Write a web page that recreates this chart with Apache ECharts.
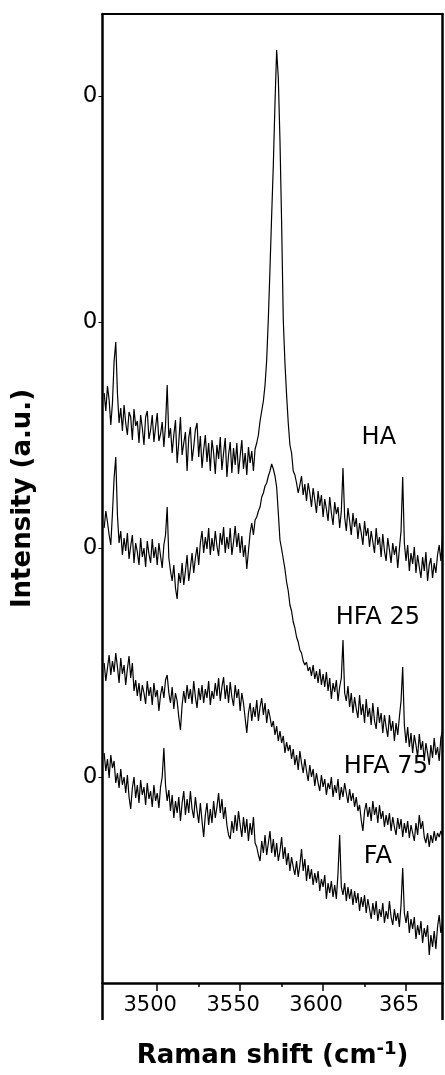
<!DOCTYPE html>
<html>
<head>
<meta charset="utf-8">
<title>Raman spectra – OH stretching region</title>
<script src="https://cdn.jsdelivr.net/npm/echarts@6/dist/echarts.min.js"></script>
<style>
  html, body { margin: 0; padding: 0; background: #fff; }
  #chart { width: 445px; height: 1075px; }
</style>
</head>
<body>
<div id="chart"></div>
<script>
// Raman shift grid (cm-1), 1 cm-1 steps
const shift = [
  3468, 3469, 3470, 3471, 3472, 3473, 3474, 3475, 3476, 3477,
  3478, 3479, 3480, 3481, 3482, 3483, 3484, 3485, 3486, 3487,
  3488, 3489, 3490, 3491, 3492, 3493, 3494, 3495, 3496, 3497,
  3498, 3499, 3500, 3501, 3502, 3503, 3504, 3505, 3506, 3507,
  3508, 3509, 3510, 3511, 3512, 3513, 3514, 3515, 3516, 3517,
  3518, 3519, 3520, 3521, 3522, 3523, 3524, 3525, 3526, 3527,
  3528, 3529, 3530, 3531, 3532, 3533, 3534, 3535, 3536, 3537,
  3538, 3539, 3540, 3541, 3542, 3543, 3544, 3545, 3546, 3547,
  3548, 3549, 3550, 3551, 3552, 3553, 3554, 3555, 3556, 3557,
  3558, 3559, 3560, 3561, 3562, 3563, 3564, 3565, 3566, 3567,
  3568, 3569, 3570, 3571, 3572, 3573, 3574, 3575, 3576, 3577,
  3578, 3579, 3580, 3581, 3582, 3583, 3584, 3585, 3586, 3587,
  3588, 3589, 3590, 3591, 3592, 3593, 3594, 3595, 3596, 3597,
  3598, 3599, 3600, 3601, 3602, 3603, 3604, 3605, 3606, 3607,
  3608, 3609, 3610, 3611, 3612, 3613, 3614, 3615, 3616, 3617,
  3618, 3619, 3620, 3621, 3622, 3623, 3624, 3625, 3626, 3627,
  3628, 3629, 3630, 3631, 3632, 3633, 3634, 3635, 3636, 3637,
  3638, 3639, 3640, 3641, 3642, 3643, 3644, 3645, 3646, 3647,
  3648, 3649, 3650, 3651, 3652, 3653, 3654, 3655, 3656, 3657,
  3658, 3659, 3660, 3661, 3662, 3663, 3664, 3665, 3666, 3667,
  3668, 3669, 3670, 3671, 3672
];

// Stacked spectra, intensities in a.u. (vertical offsets already included)
const HA = [
  590, 572, 597, 583, 558, 580, 622, 641, 590, 560,
  575, 552, 578, 560, 548, 571, 566, 543, 574, 557,
  562, 540, 568, 555, 538, 566, 572, 544, 553, 568,
  541, 556, 570, 542, 549, 561, 536, 558, 598, 545,
  555, 530, 548, 563, 520, 541, 566, 528, 540, 551,
  512, 545, 556, 522, 536, 553, 560, 526, 547, 515,
  533, 548, 521, 540, 512, 543, 530, 509, 538, 524,
  546, 513, 530, 545, 506, 528, 541, 510, 535, 518,
  540, 509, 527, 543, 514, 530, 508, 536, 520, 532,
  512, 534, 540, 548, 562, 572, 582, 598, 623, 665,
  715, 768, 818, 880, 933, 905, 843, 760, 663, 620,
  588, 560, 538, 530, 512, 508, 500, 490, 498, 507,
  488, 499, 482, 500, 490, 476, 495, 483, 470, 492,
  477, 488, 466, 484, 474, 462, 486, 470, 458, 481,
  469, 476, 455, 472, 515, 466, 452, 475, 462, 448,
  470, 456, 465, 444, 460, 450, 438, 462, 447, 455,
  436, 452, 441, 430, 455, 438, 446, 426, 449, 432,
  422, 445, 433, 420, 440, 428, 437, 415, 434, 452,
  506, 440, 422, 438, 412, 430, 419, 436, 410, 428,
  416, 405, 426, 412, 431, 402, 418, 425, 405, 420,
  410, 428, 438, 422, 445
];
const HFA25 = [
  455, 472, 461, 448, 438, 470, 505, 526, 468, 440,
  452, 428, 445, 432, 450, 424, 437, 448, 420, 440,
  431, 418, 445, 426, 435, 416, 442, 429, 420, 444,
  425, 436, 418, 440, 427, 415, 438, 448, 476, 425,
  412, 402, 418, 395, 384, 410, 400, 420, 398, 412,
  428, 402, 415, 430, 410, 425, 436, 418, 440, 452,
  430, 446, 434, 455, 428, 445, 432, 452, 437, 427,
  450, 438, 456, 430, 446, 434, 455, 428, 441, 457,
  436, 450, 430, 447, 426, 438, 414, 432, 450, 460,
  448, 463, 466, 472, 476, 486, 490, 497, 500, 507,
  512, 519, 514, 507, 496, 470, 443, 434, 424, 414,
  401, 392, 378, 372, 361, 355, 346, 341, 333, 330,
  322, 318, 321, 312, 316, 307, 318, 304, 312, 300,
  314, 298, 309, 296, 311, 292, 305, 284, 300, 291,
  303, 282, 296, 305, 343, 290, 282, 297, 276, 290,
  270, 286, 274, 265, 288, 268, 279, 260, 284, 266,
  275, 258, 280, 262, 254, 276, 260, 270, 250, 268,
  256, 246, 268, 252, 262, 242, 260, 248, 266, 282,
  316, 258, 240, 256, 236, 250, 230, 248, 238, 226,
  249, 233, 242, 222, 240, 230, 218, 238, 225, 245,
  228, 236, 222, 245, 252
];
const HFA75 = [
  320, 302, 315, 328, 308, 322, 311, 330, 316, 300,
  325, 309, 318, 298, 314, 327, 305, 320, 292, 303,
  287, 300, 282, 298, 290, 279, 302, 287, 296, 278,
  300, 286, 293, 272, 288, 297, 285, 303, 308, 290,
  280, 296, 274, 290, 282, 266, 253, 278, 292, 280,
  298, 284, 294, 279, 302, 286, 275, 295, 283, 298,
  280, 294, 285, 302, 278, 292, 284, 300, 287, 305,
  282, 296, 306, 284, 298, 280, 301, 286, 277, 298,
  285, 294, 272, 290, 280, 265, 250, 270, 280, 262,
  276, 266, 283, 262, 276, 285, 268, 280, 260, 274,
  266, 256, 262, 248, 257, 242, 252, 240, 247, 230,
  241, 232, 238, 224, 234, 218, 228, 213, 232, 220,
  210, 224, 212, 202, 218, 206, 214, 197, 210, 200,
  192, 208, 196, 204, 188, 200, 194, 206, 186, 198,
  190, 204, 183, 196, 186, 200, 190, 180, 194, 182,
  190, 176, 186, 172, 178, 163, 152, 172, 180, 166,
  176, 162, 182, 168, 176, 160, 178, 164, 172, 156,
  168, 158, 170, 152, 166, 156, 148, 165, 154, 164,
  146, 160, 150, 162, 145, 158, 150, 142, 160, 148,
  168, 154, 162, 146, 140, 150, 136, 148, 140, 152,
  142, 150, 146, 152, 148
];
const FA = [
  230, 212, 224, 205, 228, 215, 222, 200, 210, 195,
  214, 198, 206, 190, 208, 186, 174, 195, 206, 185,
  198, 180, 203, 188, 196, 178, 200, 184, 192, 176,
  198, 182, 190, 175, 196, 206, 235, 198, 182, 193,
  172, 188, 165, 182, 170, 186, 162, 180, 192, 168,
  184, 170, 192, 174, 165, 186, 172, 160, 180, 162,
  146, 168, 180, 158, 174, 160, 182, 165, 176, 190,
  170, 184, 164, 176, 158, 148, 144, 162, 150, 168,
  152, 172, 158, 146, 166, 150, 164, 142, 160, 148,
  166, 140, 136, 128, 122, 142, 130, 148, 128, 140,
  152, 130, 144, 126, 140, 122, 132, 146, 124, 136,
  118, 130, 112, 126, 116, 108, 122, 106, 118, 134,
  112, 124, 102, 118, 104, 114, 98, 110, 100, 112,
  92, 104, 96, 108, 84, 100, 90, 102, 86, 98,
  84, 110, 148, 96, 88, 100, 82, 96, 84, 94,
  78, 92, 80, 90, 72, 86, 76, 88, 70, 84,
  74, 64, 80, 68, 82, 62, 74, 66, 80, 60,
  72, 64, 82, 66, 58, 74, 62, 70, 56, 78,
  115, 70, 60, 72, 50, 64, 54, 66, 44, 58,
  48, 62, 40, 55, 46, 58, 28, 48, 36, 52,
  34, 56, 68, 50, 60
];

const sampleNames = ['HA', 'HFA 25', 'HFA 75', 'FA'];
// where each sample name sits, in (shift, intensity)
const nameAnchors = [[3633.6, 545], [3633, 365], [3637.8, 216], [3633, 126]];

const xRange = [3467, 3672];
const xMajorTicks = [3500, 3550, 3600, 3650];
const xTickLabels = ['3500', '3550', '3600', '365'];
const xMinorTicks = [3525, 3575, 3625];
const yRange = [0, 969];
const yBaselines = [206, 435, 661, 887];
const yTickLabels = ['0', '0', '0', '0'];

const FONT = 'DejaVu Sans';
const INK = '#000';

const spectra = [HA, HFA25, HFA75, FA];

const series = spectra.map((vals, k) => ({
  name: sampleNames[k],
  type: 'line',
  xAxisIndex: 0,
  yAxisIndex: 0,
  data: shift.map((x, i) => [x, vals[i]]),
  showSymbol: false,
  symbol: 'none',
  lineStyle: { color: '#000', width: 1.2 },
  clip: true,
  silent: true,
  markPoint: {
    symbol: 'rect',
    symbolSize: 1,
    itemStyle: { color: 'rgba(0,0,0,0)' },
    silent: true,
    label: {
      show: true,
      position: 'inside',
      formatter: sampleNames[k],
      color: INK,
      fontFamily: FONT,
      fontSize: 24
    },
    data: [{ coord: nameAnchors[k] }]
  }
}));

const baseX = { type: 'value', min: xRange[0], max: xRange[1], splitLine: { show: false } };
const baseY = { type: 'value', min: yRange[0], max: yRange[1], splitLine: { show: false } };

const option = {
  animation: false,
  backgroundColor: '#fff',
  grid: { left: 102.5, right: 2.5, top: 14, bottom: 92, containLabel: false, outerBoundsMode: 'none' },
  xAxis: [
    Object.assign({}, baseX, {
      position: 'bottom',
      axisLine: { show: true, lineStyle: { color: INK, width: 2.5 } },
      axisTick: { show: true, length: 8, customValues: xMajorTicks, lineStyle: { color: INK, width: 1.5 } },
      axisLabel: {
        show: true,
        customValues: xMajorTicks,
        formatter: v => xTickLabels[xMajorTicks.indexOf(v)],
        color: INK, fontFamily: FONT, fontSize: 21, margin: 12,
        padding: [0, 14, 0, 0]
      },
      name: 'Raman shift (cm{sup|-1})',
      nameLocation: 'middle',
      nameGap: 57,
      nameTextStyle: {
        color: INK, fontFamily: FONT, fontSize: 26, fontWeight: 'bold', lineHeight: 32,
        rich: {
          sup: { fontFamily: FONT, fontSize: 18, fontWeight: 'bold', color: INK, verticalAlign: 'top', lineHeight: 18 }
        }
      }
    }),
    Object.assign({}, baseX, {
      position: 'bottom',
      axisLine: { show: false },
      axisTick: { show: true, length: 4, customValues: xMinorTicks, lineStyle: { color: INK, width: 1.5 } },
      axisLabel: { show: false }
    }),
    Object.assign({}, baseX, {
      position: 'bottom',
      axisLine: { show: false },
      axisTick: { show: true, length: 37, customValues: xRange, lineStyle: { color: INK, width: 2.5 } },
      axisLabel: { show: false }
    }),
    Object.assign({}, baseX, {
      position: 'top',
      axisLine: { show: true, lineStyle: { color: INK, width: 2 } },
      axisTick: { show: false },
      axisLabel: { show: false }
    })
  ],
  yAxis: [
    Object.assign({}, baseY, {
      position: 'left',
      axisLine: { show: true, lineStyle: { color: INK, width: 2.5 } },
      axisTick: { show: true, length: 4, customValues: yBaselines, lineStyle: { color: INK, width: 1 } },
      axisLabel: {
        show: true,
        customValues: yBaselines,
        formatter: v => yTickLabels[yBaselines.indexOf(v)],
        color: INK, fontFamily: FONT, fontSize: 23, margin: 5
      },
      name: 'Intensity (a.u.)',
      nameLocation: 'middle',
      nameGap: 66,
      nameTextStyle: { color: INK, fontFamily: FONT, fontSize: 26, fontWeight: 'bold' }
    }),
    Object.assign({}, baseY, {
      position: 'right',
      axisLine: { show: true, lineStyle: { color: INK, width: 2.5 } },
      axisTick: { show: false },
      axisLabel: { show: false }
    })
  ],
  series: series
};

const chart = echarts.init(document.getElementById('chart'), null, { renderer: 'canvas' });
chart.setOption(option);
</script>
</body>
</html>
